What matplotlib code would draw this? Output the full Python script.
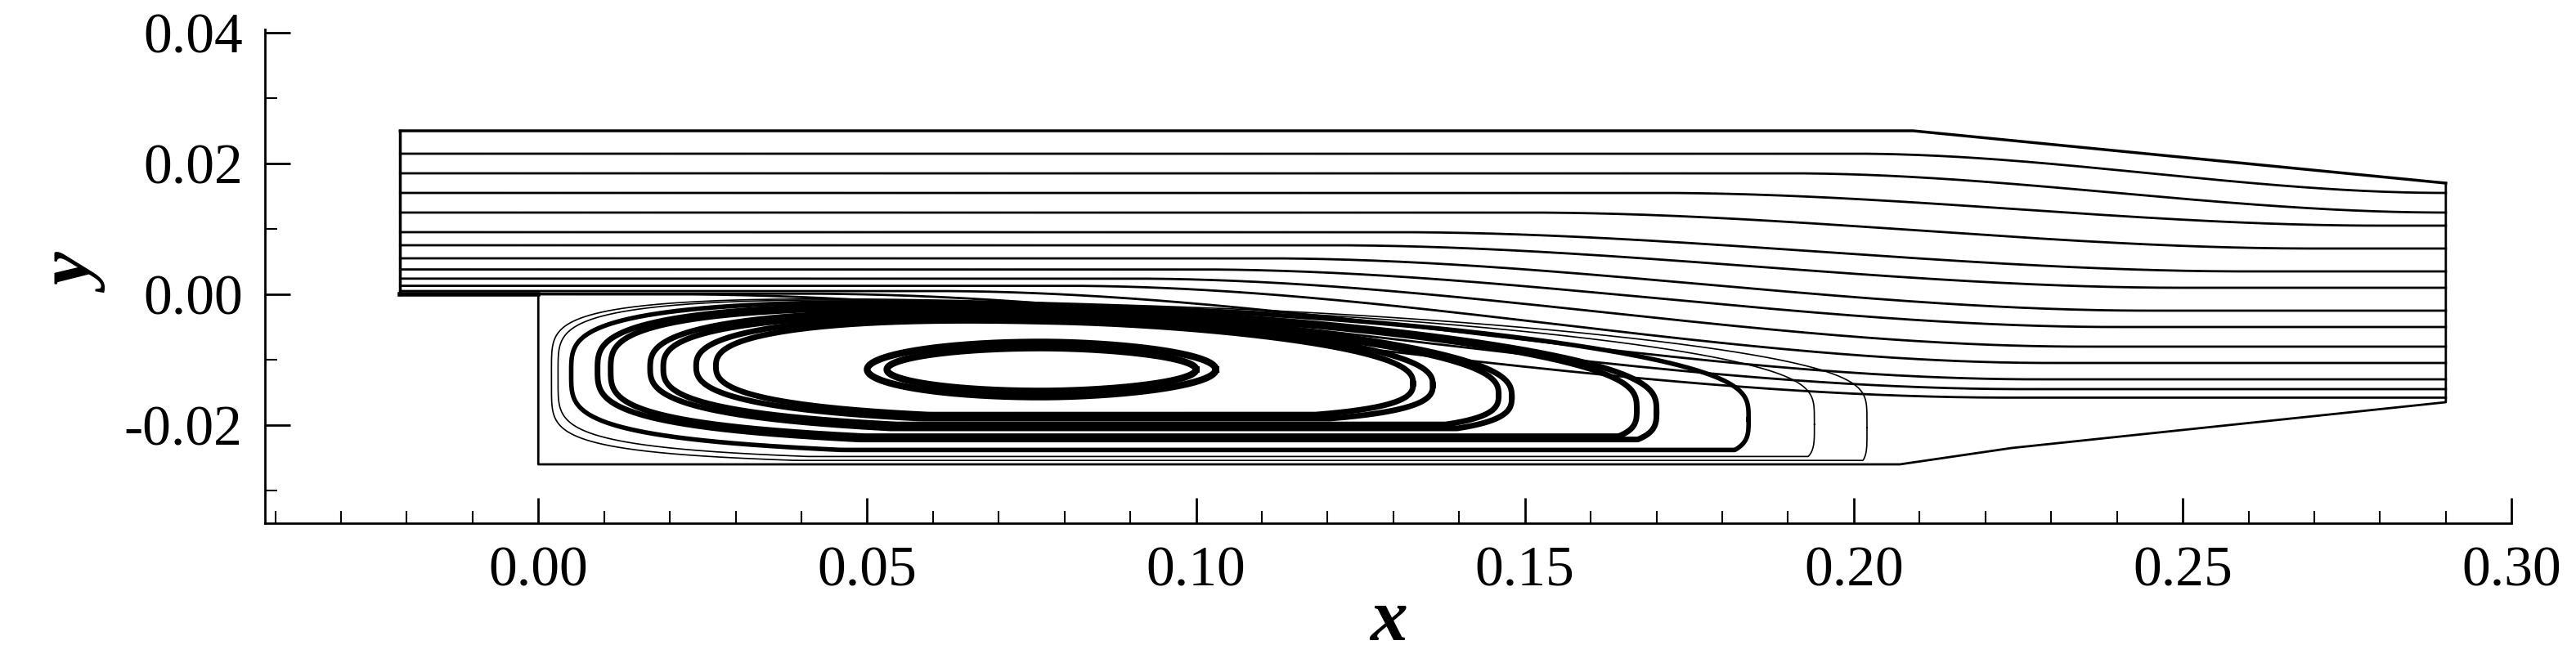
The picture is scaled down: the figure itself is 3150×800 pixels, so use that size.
import matplotlib.pyplot as plt
import numpy as np

plt.rcParams['font.family'] = ['Liberation Serif', 'DejaVu Serif']

# geometry of the channel / cavity
wall_x = [-0.021, -0.021]
wall_top = [0.025, 0.025, 0.017]
wall_top_x = [-0.021, 0.209, 0.29]
cav_x = [0.0, 0.0, 0.207, 0.224, 0.29, 0.29]
cav_y = [0.0, -0.026, -0.026, -0.0235, -0.0165, 0.017]

# channel streamlines: inlet height and outlet height
inlet_y = [0.0215, 0.0185, 0.0155, 0.0125, 0.0095, 0.0075, 0.0055, 0.0038, 0.0024, 0.0013, 0.0005, 0.0001, 0.0]
outlet_y = [0.0155, 0.0125, 0.0105, 0.007, 0.0035, 0.001, -0.0025, -0.005, -0.008, -0.0105, -0.013, -0.0145, -0.0158]
bend_start = [0.20, 0.19, 0.17, 0.15, 0.13, 0.12, 0.11, 0.10, 0.09, 0.08, 0.06, 0.04, 0.02]
bend_end = [0.29, 0.29, 0.28, 0.27, 0.26, 0.25, 0.245, 0.24, 0.235, 0.23, 0.228, 0.226, 0.224]

# recirculation loops: left x, right x, top y, bottom y, line width, squareness
loop_x0 = [0.050, 0.053, 0.024, 0.027, 0.017, 0.019, 0.009, 0.011, 0.005, 0.003, 0.002]
loop_x1 = [0.103, 0.100, 0.136, 0.133, 0.148, 0.146, 0.170, 0.167, 0.184, 0.194, 0.202]
loop_top = [-0.0073, -0.0082, -0.0030, -0.0036, -0.0020, -0.0026, -0.0010, -0.0014, -0.0005, -0.0003, -0.0002]
loop_bot = [-0.0157, -0.0148, -0.0190, -0.0184, -0.0205, -0.0199, -0.0222, -0.0217, -0.0238, -0.0248, -0.0254]
loop_lw = [6, 6, 5, 5, 5, 5, 5, 5, 4, 1.2, 1.2]
loop_pw = [2.0, 2.0, 2.6, 2.6, 2.8, 2.8, 3.2, 3.2, 3.6, 4.5, 5.0]

fig = plt.figure(figsize=(31.5, 8), dpi=100)
ax = fig.add_axes([0.103, 0.2, 0.872, 0.755])

ax.plot(wall_top_x, wall_top, color='k', lw=2.5)
ax.plot(wall_x, [0.0, 0.025], color='k', lw=2.5)
ax.plot([-0.021, 0.0], [0.0, 0.0], color='k', lw=4)
ax.plot(cav_x, cav_y, color='k', lw=2)

for yi, yo, xs, xe in zip(inlet_y, outlet_y, bend_start, bend_end):
    x = np.linspace(-0.021, 0.29, 400)
    s = np.clip((x - xs) / (xe - xs), 0, 1)
    s = s * s * (3 - 2 * s)
    ax.plot(x, yi + (yo - yi) * s, color='k', lw=2)

for x0, x1, yt, yb, lw, pw in zip(loop_x0, loop_x1, loop_top, loop_bot, loop_lw, loop_pw):
    t = np.linspace(0, 2 * np.pi, 800)
    c, s = np.cos(t), np.sin(t)
    # square-ish on the left, pointed on the right
    p = np.where(c < 0, pw, 1.8)
    u = np.sign(c) * np.abs(c) ** (2 / p)
    v = np.sign(s) * np.abs(s) ** (2 / pw)
    xc, yc = (x0 + x1) / 2, (yt + yb) / 2
    x = xc + u * (x1 - x0) / 2
    y = yc + v * (yt - yb) / 2
    # tail drops towards the lower right, but stays inside the cavity
    w = (u + 1) / 2
    y = y - w ** 2 * (yt - yb) * 0.3 * np.clip(pw - 2, 0, 1)
    y = np.maximum(y, yb)
    ax.plot(x, y, color='k', lw=lw)

ax.set_xlim(-0.0415, 0.30)
ax.set_ylim(-0.035, 0.0405)
ax.set_xticks(np.arange(0, 0.301, 0.05))
ax.set_xticks(np.arange(-0.04, 0.301, 0.01), minor=True)
ax.set_yticks([-0.02, 0.0, 0.02, 0.04])
ax.set_yticks(np.arange(-0.03, 0.041, 0.01), minor=True)
ax.set_xticklabels(['0.00', '0.05', '0.10', '0.15', '0.20', '0.25', '0.30'])
ax.set_yticklabels(['-0.02', '0.00', '0.02', '0.04'])
for side in ['top', 'right']:
    ax.spines[side].set_visible(False)
ax.spines['left'].set_linewidth(2)
ax.spines['bottom'].set_linewidth(2)
ax.tick_params(direction='in', labelsize=50, width=2, length=22, pad=20)
ax.tick_params(which='minor', direction='in', width=1.5, length=11)
ax.set_xlabel('x', fontsize=66, fontweight='bold', fontstyle='italic', labelpad=-8)
ax.set_ylabel('y', fontsize=66, fontweight='bold', fontstyle='italic', labelpad=10)

fig.savefig('out.png', dpi=100)
